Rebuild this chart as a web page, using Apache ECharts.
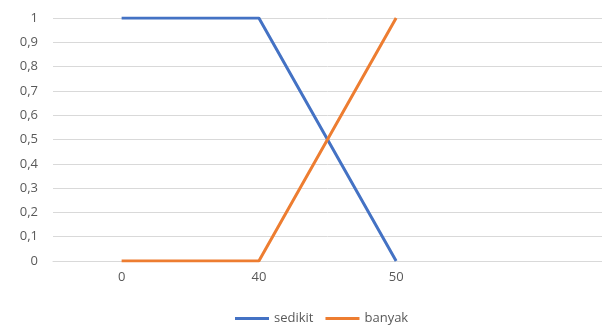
<!DOCTYPE html>
<html>
<head>
<meta charset="utf-8">
<script src="https://cdn.jsdelivr.net/npm/echarts@6/dist/echarts.min.js"></script>
<style>
html, body { margin: 0; padding: 0; background: #fff; }
#chart { width: 602px; height: 327px; }
</style>
</head>
<body>
<div id="chart"></div>
<script>
// x categories (the last slot is left blank)
const categories = ['0', '40', '50', ''];
// membership values
const sedikit = [1, 1, 0, null];
const banyak = [0, 0, 1, null];

const chart = echarts.init(document.getElementById('chart'));
const font = 'Open Sans, Liberation Sans, sans-serif';

chart.setOption({
  animation: false,
  grid: { left: 53, top: 18, width: 552, height: 243, containLabel: false },
  legend: {
    left: 230, top: 307,
    icon: 'rect',
    itemWidth: 34, itemHeight: 3, itemGap: 12,
    textStyle: { color: '#595959', fontSize: 13, fontFamily: font },
    data: ['sedikit', 'banyak']
  },
  xAxis: {
    type: 'category',
    data: categories,
    boundaryGap: true,
    axisLine: { lineStyle: { color: '#d9d9d9', width: 1 } },
    axisTick: { show: false },
    axisLabel: { color: '#595959', fontSize: 13, fontFamily: font, margin: 10 }
  },
  yAxis: {
    type: 'value',
    min: 0, max: 1, interval: 0.1,
    axisLine: { show: false },
    axisTick: { show: false },
    splitLine: { lineStyle: { color: '#d9d9d9', width: 1 } },
    axisLabel: {
      color: '#595959', fontSize: 13, fontFamily: font, margin: 15,
      formatter: v => String(Math.round(v * 10) / 10).replace('.', ',')
    }
  },
  series: [
    {
      name: 'sedikit', type: 'line', data: sedikit,
      symbol: 'none', color: '#4472C4',
      lineStyle: { width: 3, color: '#4472C4' }
    },
    {
      name: 'banyak', type: 'line', data: banyak,
      symbol: 'none', color: '#ED7D31',
      lineStyle: { width: 3, color: '#ED7D31' }
    }
  ]
});
</script>
</body>
</html>
